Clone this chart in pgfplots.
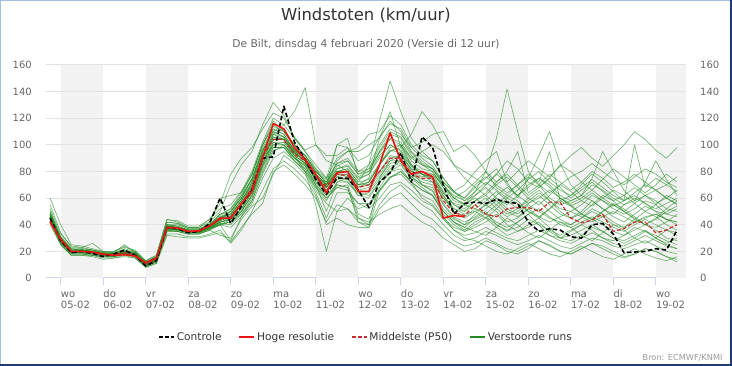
\documentclass[border=0pt]{standalone}
\usepackage{fontspec}
\setmainfont{DejaVu Sans}
\usepackage{pgfplots}
\usepackage{pgfplotstable}
\pgfplotsset{compat=1.18}
\definecolor{ensgreen}{RGB}{34,139,34}
\definecolor{hresred}{RGB}{235,20,20}
\definecolor{p50red}{RGB}{200,45,45}
\definecolor{band}{RGB}{242,242,242}
\definecolor{gridc}{RGB}{226,226,226}
\definecolor{axc}{RGB}{204,214,235}
\definecolor{labc}{RGB}{102,102,102}
\definecolor{titc}{RGB}{51,51,51}
\definecolor{brdl}{RGB}{160,190,235}
\definecolor{brdd}{RGB}{30,60,120}
\definecolor{bronc}{RGB}{153,153,153}

\pgfplotstableread[row sep=\\, header=true]{
id -0.25 0 0.25 0.5 0.75 1 1.25 1.5 1.75 2 2.25 2.5 2.75 3 3.25 3.5 3.75 4 4.25 4.5 4.75 5 5.25 5.5 5.75 6 6.25 6.5 6.75 7 7.25 7.5 7.75 8 8.25 8.5 8.75 9 9.25 9.5 9.75 10 10.25 10.5 10.75 11 11.25 11.5 11.75 12 12.25 12.5 12.75 13 13.25 13.5 13.75 14 14.25 14.5 \\
ctrl 45 28 19 20 18.5 16 18 21 17 9
13 38 37 34 35 41 60 41 54 66
90 91 129 102 89 74 63 75 75 66
53 72 79 94 72 106 98 70 48 56
57 56 59 57 56 42 35 37 36 31
30 40 41 33 19 19.5 20 22 21 36 \\
hres 42 29 20 20 19.5 18 17 17.5 16.5 11.5
15 38 37.5 35 35.5 39 45 45 56 65
90 116 112 98 89 78 64 79 80 65
65 85 109 88 78 80 76 45 47 46
nan nan nan nan nan nan nan nan nan nan
nan nan nan nan nan nan nan nan nan nan \\
p50 43 28 19.5 20 19 17.5 17.5 19 17.5 10.5
14 38 37 35 35 39 44 46 55 68
92 104 104 93 88 75 69 78 77 68
70 80 90 90 78 75 75 58 49 47
55 48 46 52 53 53 50 57 57 45
41.5 43.5 48 35 37 42 42 34 36 40 \\
m1 50 31 22 21 20 19 18 20 19 12
15 40 39 36 36 40 48 52 62 78
100 118 110 98 92 80 72 82 85 75
78 92 100 95 80 78 72 60 52 50
58 62 55 48 52 60 66 58 50 45
48 55 62 58 50 44 40 38 42 48 \\
m2 44 27 19 19 18 17 17 19 17 9
13 36 36 34 34 37 40 44 50 62
85 108 112 100 90 72 62 70 68 45
40 75 88 92 82 70 65 50 42 38
45 50 40 35 42 48 40 32 30 35
40 36 30 28 32 38 35 30 26 30 \\
m3 48 30 21 22 21 20 19 25 19 11
16 42 41 38 38 42 50 70 85 95
115 132 122 105 95 82 70 88 95 95
100 105 118 110 95 88 82 70 60 65
72 80 68 62 70 78 72 95 58 62
70 78 72 65 58 100 68 75 70 65 \\
m4 46 28 20 20 19 18 18 20 18 10
14 38 37 35 35 38 44 50 60 75
95 110 115 125 143 100 88 85 80 70
72 85 95 100 85 78 75 62 50 45
50 55 60 52 48 55 50 45 42 40
45 50 46 40 38 42 45 48 44 40 \\
m5 45 28 19 20 19 17 17 19 17 10
14 37 36 34 34 37 42 44 52 65
88 102 100 92 80 55 20 50 60 52
55 65 75 80 72 60 55 45 38 35
40 45 38 32 35 40 45 38 30 28
32 38 35 30 26 30 35 32 28 25 \\
m6 47 29 20 21 20 18 18 20 18 11
15 39 38 36 36 39 45 48 58 70
92 108 106 95 90 78 70 80 82 72
85 118 148 125 105 95 88 75 65 60
68 75 82 70 62 68 75 70 62 58
62 70 66 60 55 58 62 66 60 55 \\
m7 46 29 20 20 19 18 17 19 18 10
14 38 37 35 35 38 43 46 56 68
90 104 104 94 88 76 68 78 76 68
70 80 92 90 80 76 78 70 60 55
65 80 105 142 110 80 70 60 55 58
62 58 52 48 55 60 56 50 48 52 \\
m8 40 25 17 17 16 14 15 16 15 8
11 32 31 30 30 32 34 27 38 48
56 80 85 78 70 60 42 55 52 45
42 48 52 55 48 42 38 30 25 20
22 28 25 20 18 22 28 25 20 18
22 26 24 20 16 18 22 20 16 14 \\
m9 52 33 24 23 26 20 20 23 21 13
17 44 43 39 39 44 52 55 65 80
102 120 115 105 95 85 75 100 98 80
82 95 108 105 92 85 80 68 58 55
52 48 55 62 58 50 45 52 60 55
48 44 50 56 52 46 40 45 52 58 \\
m10 43 26 18 18 17 16 16 18 16 9
12 35 35 33 33 36 40 42 48 58
78 95 100 90 85 70 60 68 70 48
44 68 80 85 75 68 62 48 40 35
38 42 48 40 35 38 42 35 30 32
36 40 35 30 28 32 36 30 25 22 \\
m11 47 30 21 21 20 19 18 20 18 11
15 40 39 36 36 40 46 48 58 72
95 112 108 96 92 80 72 84 88 78
80 95 105 102 90 85 82 72 65 70
80 88 95 72 60 75 92 110 86 70
62 75 95 80 66 58 72 88 74 62 \\
m12 45 28 19 19 18 17 17 19 17 10
13 37 36 34 34 37 41 40 48 60
82 98 98 88 82 68 58 72 75 62
60 72 82 88 76 70 68 55 45 40
48 55 50 42 45 52 58 50 44 40
45 52 48 42 38 44 50 46 40 36 \\
m13 49 30 21 20 19 18 18 21 19 12
15 39 38 35 35 39 46 50 62 74
96 110 106 96 86 76 66 76 78 70
75 105 125 98 85 80 78 65 55 50
55 60 52 46 50 56 62 55 48 45
50 58 52 46 42 48 54 50 44 42 \\
m14 42 26 18 18 18 16 16 18 16 9
12 36 35 33 33 36 40 28 46 56
75 90 95 88 80 66 56 50 52 42
40 55 65 70 62 55 50 40 32 28
30 35 32 28 25 28 32 28 24 22
26 30 28 24 22 25 28 24 20 18 \\
m15 46 29 20 21 20 18 17 19 18 10
14 38 37 35 35 38 42 45 54 66
88 100 102 92 86 74 68 76 74 66
68 78 88 88 78 74 72 60 50 46
52 58 65 58 52 58 64 58 52 50
55 62 58 52 48 52 58 55 48 46 \\
m16 47 29 20 20 19 18 18 20 18 11
14 38 37 35 35 38 44 46 56 70
92 106 104 94 88 78 70 80 80 70
72 85 98 100 90 95 100 95 85 80
75 70 78 88 82 72 68 75 85 80
72 66 74 82 76 70 64 70 78 72 \\
m17 44 27 19 19 18 17 16 18 17 9
13 36 36 34 34 37 40 42 50 62
84 100 100 90 84 70 50 72 72 62
64 74 84 86 76 70 66 52 44 40
44 48 42 38 42 48 52 46 40 38
42 46 42 38 35 40 44 40 36 34 \\
m18 48 30 21 21 20 18 18 20 18 11
15 40 38 36 36 40 47 52 64 78
100 115 110 100 92 82 75 90 95 98
108 110 122 115 100 92 88 75 65 58
62 68 60 55 62 70 75 68 60 56
60 66 60 55 50 56 62 58 52 50 \\
m19 46 28 20 20 19 18 17 19 18 10
14 38 37 35 35 38 43 46 55 67
90 104 104 92 86 74 68 78 78 68
72 85 95 98 108 125 115 100 85 75
68 62 70 76 68 60 55 62 70 65
58 54 60 66 62 56 50 55 62 58 \\
m20 45 28 19 20 19 17 17 19 17 10
14 37 37 35 35 38 42 44 52 64
86 100 100 90 84 72 64 74 72 64
62 72 80 82 72 66 62 50 42 38
35 32 38 45 40 34 30 36 42 38
32 28 34 40 36 30 26 30 36 32 \\
m21 50 31 22 22 21 19 19 21 19 12
16 40 40 37 37 40 48 50 60 75
98 112 108 96 90 80 74 86 90 80
85 100 112 108 98 102 108 110 95 100
92 80 72 78 70 62 68 75 68 60
66 72 65 58 62 68 62 56 60 66 \\
m22 43 27 18 18 17 16 16 18 16 9
12 36 35 33 33 36 32 30 44 54
60 78 92 86 78 64 45 64 64 56
52 60 70 72 66 58 54 44 36 32
34 38 34 30 28 32 36 32 28 26
30 34 30 26 24 28 32 28 24 22 \\
m23 47 29 20 20 19 18 18 19 18 11
14 38 37 35 35 38 45 48 58 72
94 108 104 94 88 76 70 82 84 74
78 90 100 96 84 78 74 62 52 48
50 45 52 60 56 50 46 52 58 54
48 44 50 55 50 45 40 44 50 54 \\
m24 44 28 19 19 18 17 17 19 17 10
13 37 36 34 34 37 41 42 50 62
84 98 98 88 80 68 60 68 66 56
56 66 76 78 70 62 58 46 36 30
28 24 20 18 22 26 22 18 16 20
24 20 16 14 18 22 18 15 13 16 \\
m25 46 29 20 20 20 18 18 20 18 10
14 38 37 35 35 39 44 47 56 68
90 105 105 95 88 76 70 80 80 70
70 80 90 92 82 78 76 64 55 52
58 64 72 80 95 64 70 78 72 66
72 80 75 68 72 78 72 66 70 76 \\
m26 45 28 19 19 19 17 17 19 17 10
13 37 36 34 34 37 40 38 46 58
80 96 98 90 82 70 62 70 68 42
38 66 76 80 72 66 62 50 42 36
42 46 40 36 38 44 40 36 32 36
40 44 40 35 32 36 40 36 30 28 \\
m27 48 29 20 21 20 18 18 20 19 11
15 39 38 36 36 39 45 50 60 74
96 110 106 96 90 78 70 100 105 76
80 94 104 100 88 82 80 68 60 56
60 54 62 68 62 56 60 66 60 54
58 64 58 54 58 62 56 52 56 60 \\
m28 46 28 20 20 19 18 17 19 18 10
14 37 37 35 35 38 42 44 52 64
86 102 102 92 86 74 66 76 74 66
66 76 86 88 78 72 70 56 46 42
46 52 58 50 46 52 46 42 46 50
46 42 46 50 46 42 46 48 44 42 \\
m29 47 29 20 21 20 18 18 20 18 11
15 39 38 35 35 39 45 48 58 70
92 106 104 94 88 76 68 80 82 72
74 86 96 94 84 78 76 64 56 54
62 70 78 72 80 88 82 76 84 92
98 90 84 92 100 110 104 96 90 98 \\
m30 42 25 17 17 17 15 15 17 15 8
11 33 33 31 31 33 36 26 36 50
66 82 88 82 74 62 40 45 40 38
38 52 60 64 56 48 44 36 28 24
26 30 26 22 20 24 28 24 20 18
22 26 22 18 15 18 22 20 16 12 \\
m31 55 34 23 23 21 19 19 22 20 12
16 42 41 37 37 41 60 62 64 78
100 114 110 100 92 80 72 86 88 78
82 98 110 106 94 86 82 70 62 58
65 72 66 60 66 74 80 72 66 62
68 74 68 62 58 64 70 66 60 56 \\
m32 60 40 25 24 22 20 20 24 20 13
17 44 42 38 38 44 56 78 90 98
112 124 120 106 96 100 92 92 98 88
92 106 116 112 98 90 84 72 64 60
70 76 70 64 70 76 70 64 70 76
80 86 80 74 70 76 82 78 72 68 \\
}\raw
\pgfplotstabletranspose[colnames from=id]{\ens}{\raw}

\begin{document}
\begin{tikzpicture}
\useasboundingbox (0,0) rectangle (732pt,366pt);
\begin{axis}[
  at={(46pt,88pt)}, anchor=south west,
  scale only axis, width=640pt, height=213pt,
  xmin=-0.346, xmax=14.71, ymin=0, ymax=160,
  clip=false,
  axis x line*=bottom, axis y line*=left,
  x axis line style={draw=axc, line width=1pt, -},
  y axis line style={draw=none},
  major tick length=0pt,
  xtick style={draw=none}, ytick style={draw=none},
  xtick={0,...,14},
  xticklabels={{\strut wo\\05-02},{\strut do\\06-02},{\strut vr\\07-02},{\strut za\\08-02},{\strut zo\\09-02},{\strut ma\\10-02},{\strut di\\11-02},{\strut wo\\12-02},{\strut do\\13-02},{\strut vr\\14-02},{\strut za\\15-02},{\strut zo\\16-02},{\strut ma\\17-02},{\strut di\\18-02},{\strut wo\\19-02}},
  xticklabel style={anchor=north west, align=left, inner sep=0pt, yshift=-11.1pt, font=\fontsize{10}{11.3}\selectfont, text=labc},
  ytick={0,20,...,160},
  yticklabel style={anchor=east, inner sep=0pt, xshift=-14pt, font=\fontsize{10}{12}\selectfont, text=labc},
  /pgf/number format/assume math mode=true,
  legend style={at={(0.5,-0.277)}, anchor=center, draw=none, fill=none,
    font=\fontsize{10.6}{12}\selectfont, text=titc,
    /tikz/every even column/.append style={column sep=15pt}},
  legend columns=4,
  legend cell align=left,
  legend image code/.code={\draw[#1] (0pt,0pt) -- (15pt,0pt);},
]
\fill[band] (axis cs:0,0) rectangle (axis cs:1,160);
\fill[band] (axis cs:2,0) rectangle (axis cs:3,160);
\fill[band] (axis cs:4,0) rectangle (axis cs:5,160);
\fill[band] (axis cs:6,0) rectangle (axis cs:7,160);
\fill[band] (axis cs:8,0) rectangle (axis cs:9,160);
\fill[band] (axis cs:10,0) rectangle (axis cs:11,160);
\fill[band] (axis cs:12,0) rectangle (axis cs:13,160);
\fill[band] (axis cs:14,0) rectangle (axis cs:14.71,160);
\pgfplotsinvokeforeach{20,40,...,160}{
  \draw[gridc, line width=1pt] (axis cs:-0.346,#1) -- (axis cs:14.71,#1);
}
\pgfplotsinvokeforeach{0,...,14}{
  \draw[axc, line width=1pt] (axis cs:#1,0) -- ++(0pt,-7pt);
}
\addlegendimage{black, line width=1.6pt, dash pattern=on 4pt off 2pt}
\addlegendentry{Controle}
\addlegendimage{hresred, line width=1.6pt}
\addlegendentry{Hoge resolutie}
\addlegendimage{p50red, line width=1.2pt, dash pattern=on 4pt off 2pt}
\addlegendentry{Middelste (P50)}
\addlegendimage{ensgreen, line width=1.6pt}
\addlegendentry{Verstoorde runs}
\pgfplotsinvokeforeach{1,...,32}{
  \addplot[ensgreen, draw opacity=0.6, line width=0.7pt, line join=round, forget plot] table[x=colnames, y=m#1] {\ens};
}
\addplot[p50red, line width=1.2pt, dash pattern=on 4pt off 2pt, line join=round, forget plot] table[x=colnames, y=p50] {\ens};
\addplot[black, line width=1.6pt, dash pattern=on 4.5pt off 2.5pt, line join=round, forget plot] table[x=colnames, y=ctrl] {\ens};
\addplot[hresred, line width=1.6pt, line join=round, forget plot] table[x=colnames, y=hres] {\ens};
\end{axis}
\begin{axis}[
  at={(46pt,88pt)}, anchor=south west,
  scale only axis, width=640pt, height=213pt,
  xmin=-0.346, xmax=14.71, ymin=0, ymax=160,
  axis x line=none, axis y line*=right,
  y axis line style={draw=none},
  xtick=\empty,
  major tick length=0pt, ytick style={draw=none},
  ytick={0,20,...,160},
  yticklabel style={anchor=west, inner sep=0pt, xshift=14pt, font=\fontsize{10}{12}\selectfont, text=labc},
  /pgf/number format/assume math mode=true,
]
\end{axis}
\node[anchor=base, inner sep=0pt, font=\fontsize{16.4}{19}\selectfont, text=titc] at (366pt,345.3pt) {Windstoten (km/uur)};
\node[anchor=base, inner sep=0pt, font=\fontsize{10.7}{13}\selectfont, text=labc] at (366pt,318.5pt) {De Bilt, dinsdag 4 februari 2020 (Versie di 12 uur)};
\node[anchor=base east, inner sep=0pt, font=\fontsize{8.2}{10}\selectfont, text=bronc] at (722.7pt,5pt) {Bron: ECMWF/KNMI};
\draw[brdl, line width=1.2pt] (0.6pt,0pt) -- (0.6pt,365.4pt) -- (732pt,365.4pt);
\draw[brdd, line width=1.6pt] (0pt,0.8pt) -- (731.2pt,0.8pt) -- (731.2pt,366pt);
\end{tikzpicture}
\end{document}
